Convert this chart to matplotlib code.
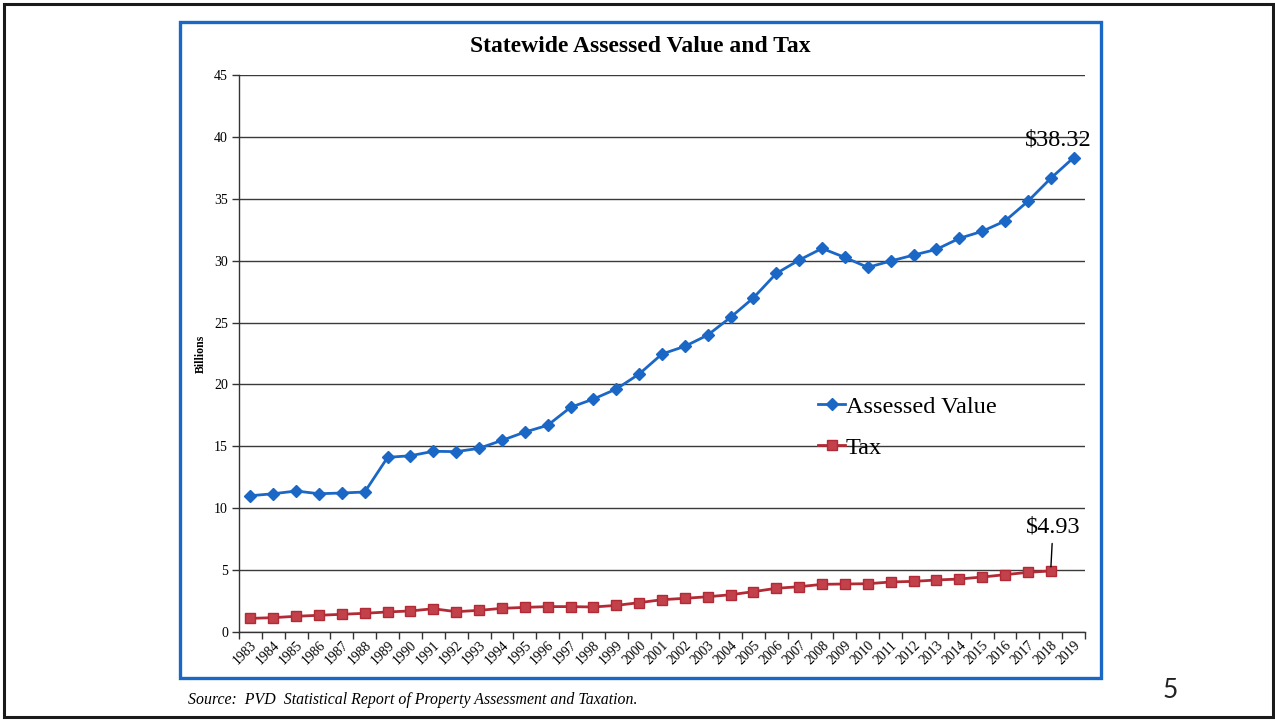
#================================================================
#======== Statewide Assessed Value and Tax - slide 5 ============
#================================================================
import numpy as np
import matplotlib
matplotlib.use('Agg')
import matplotlib.pyplot as plt
from matplotlib.patches import Rectangle

# --- Data (billions of dollars) ---
years = [str(y) for y in range(1983, 2020)]
assessed_value = [11.01, 11.17, 11.39, 11.17, 11.23, 11.31, 14.11, 14.24, 14.60, 14.57,
                  14.84, 15.48, 16.15, 16.70, 18.15, 18.82, 19.63, 20.84, 22.46, 23.08,
                  23.99, 25.42, 27.00, 28.97, 30.05, 30.99, 30.26, 29.46, 29.97, 30.45,
                  30.91, 31.80, 32.37, 33.20, 34.79, 36.65, 38.32]
tax = [1.10, 1.16, 1.27, 1.35, 1.43, 1.51, 1.62, 1.70, 1.88, 1.64,
       1.75, 1.91, 1.99, 2.05, 2.05, 2.02, 2.15, 2.37, 2.61, 2.72,
       2.85, 3.01, 3.26, 3.53, 3.66, 3.85, 3.88, 3.90, 4.04, 4.09,
       4.20, 4.28, 4.44, 4.63, 4.82, 4.93]   # no 2019 value yet
y_ticks = [0, 5, 10, 15, 20, 25, 30, 35, 40, 45]

# colours
blue = '#1b67c6'
red = '#b22a35'
red_face = '#c2414b'
grid_col = '#3a3a3a'

plt.rcParams['font.family'] = ['Liberation Serif', 'DejaVu Serif']

fig = plt.figure(figsize=(12.75, 7.21), dpi=100)
W, H = 1275, 721

# --- slide border and the blue chart frame (pixel boxes -> figure fraction) ---
fig.patches.append(Rectangle((4 / W, 1 - 717 / H), 1269 / W, 713 / H, transform=fig.transFigure,
                             fill=False, edgecolor='#1a1a1a', linewidth=2.2))
fig.patches.append(Rectangle((180 / W, 1 - 678 / H), 921 / W, 656 / H, transform=fig.transFigure,
                             fill=False, edgecolor=blue, linewidth=2.4))

ax = fig.add_axes([239 / W, 1 - 632 / H, 846 / W, 557 / H])

x = np.arange(len(years))
ax.plot(x, assessed_value, color=blue, linewidth=2.0, marker='D', markersize=6.3,
        markerfacecolor=blue, markeredgecolor=blue, label='Assessed Value', zorder=3)
ax.plot(x[:len(tax)], tax, color=red, linewidth=2.0, marker='s', markersize=7,
        markerfacecolor=red_face, markeredgecolor=red, label='Tax', zorder=3)

# --- axes ---
ax.set_xlim(-0.5, len(years) - 0.5)
ax.set_ylim(0, 45)
ax.set_yticks(y_ticks)
ax.set_yticklabels([str(v) for v in y_ticks], fontsize=10)
ax.set_xticks(x)
ax.set_xticklabels(years, fontsize=9.8, rotation=45, ha='right', rotation_mode='anchor')
ax.set_xticks(np.arange(-0.5, len(years)), minor=True)
ax.tick_params(axis='x', which='major', length=0, pad=5)
ax.tick_params(axis='x', which='minor', length=5, width=1, direction='out', color='#333333')
ax.tick_params(axis='y', length=5, width=1, direction='out', color='#333333', pad=3)

ax.yaxis.grid(True, color=grid_col, linewidth=1.0)
ax.set_axisbelow(True)
for side in ['top', 'right']:
    ax.spines[side].set_visible(False)
for side in ['left', 'bottom']:
    ax.spines[side].set_color('#333333')
    ax.spines[side].set_linewidth(1.0)

ax.set_ylabel('Billions', fontsize=8.5, fontweight='bold', labelpad=5)

# --- end-point labels ---
ax.annotate('$38.32', xy=(36, assessed_value[-1]), xytext=(35.35, 39.75),
            fontsize=17.5, ha='center', va='center')
ax.annotate('$4.93', xy=(35, tax[-1]), xytext=(35.1, 8.45),
            fontsize=17.5, ha='center', va='center',
            arrowprops=dict(arrowstyle='-', color='black', linewidth=1.0, shrinkA=2, shrinkB=3))

# --- legend (no frame) ---
ax.legend(loc='center left', bbox_to_anchor=(0.658, 0.368), frameon=False, fontsize=17.5,
          handlelength=1.15, handletextpad=0.02, labelspacing=0.78, numpoints=1)

# --- title, source and slide number ---
fig.text(640 / W, 1 - 47 / H, 'Statewide Assessed Value and Tax', fontsize=17,
         fontweight='bold', ha='center', va='center')
fig.text(188 / W, 1 - 700 / H, 'Source:  PVD  Statistical Report of Property Assessment and Taxation.',
         fontsize=11.4, style='italic', ha='left', va='center')
fig.text(1170 / W, 1 - 690 / H, '5', fontsize=19, ha='center', va='center',
         family=['Lato', 'DejaVu Sans'], color='#222222')

plt.savefig('out.png', dpi=100)
